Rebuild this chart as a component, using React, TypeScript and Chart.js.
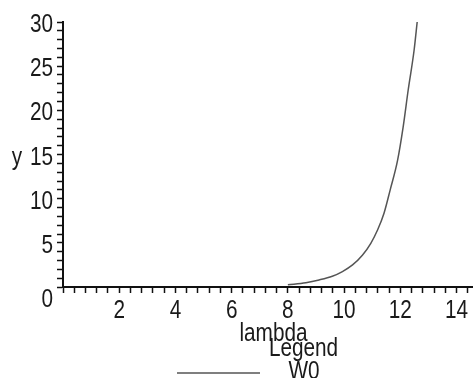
import React, { useEffect, useRef } from "react";
import { Chart, registerables } from "chart.js";

Chart.register(...registerables);

// Data
const lambdaValues = [8, 8.64, 9.11, 9.58, 9.94, 10.3, 10.65, 10.95, 11.19, 11.42, 11.64, 11.9, 12.1, 12.28, 12.49, 12.6];
const w0Values = [0.25, 0.49, 0.8, 1.22, 1.75, 2.5, 3.6, 4.95, 6.45, 8.35, 11.0, 14.3, 18.1, 22.3, 26.8, 30];

const xLabelTicks = [2, 4, 6, 8, 10, 12, 14];
const yLabelTicks = [0, 5, 10, 15, 20, 25, 30];
const xMinorStep = 0.4;
const yMinorStep = 1;
const xMax = 14.55;
const yMax = 30;

const seriesName = "W0";
const xTitle = "lambda";
const yTitle = "y";
const legendTitle = "Legend";

const FONT = "'Liberation Sans', Arial, sans-serif";
const FONT_SIZE = 25;
const SX = 0.83;
const LINE_COLOR = "#555555";
const AXIS_COLOR = "#111111";
const TEXT_COLOR = "#1a1a1a";

function buildTicks(max: number, step: number) {
  const out: { value: number }[] = [];
  const n = Math.floor(max / step + 1e-6);
  for (let i = 0; i <= n; i++) out.push({ value: Math.round(i * step * 1000) / 1000 });
  return out;
}

function narrowText(ctx: CanvasRenderingContext2D, text: string, x: number, y: number, align: CanvasTextAlign) {
  ctx.save();
  ctx.translate(x, y);
  ctx.scale(SX, 1);
  ctx.textAlign = align;
  ctx.textBaseline = "alphabetic";
  ctx.fillText(text, 0, 0);
  ctx.restore();
}

const textPlugin = {
  id: "mapleText",
  afterDraw(chart: any) {
    const ctx: CanvasRenderingContext2D = chart.ctx;
    const xs = chart.scales.x;
    const ys = chart.scales.y;
    ctx.save();
    ctx.fillStyle = TEXT_COLOR;
    ctx.font = `${FONT_SIZE}px ${FONT}`;
    // y tick labels
    yLabelTicks.forEach((v) => {
      const py = ys.getPixelForValue(v);
      narrowText(ctx, String(v), 53, v === 0 ? py + 20 : py + 10, "right");
    });
    // x tick labels
    xLabelTicks.forEach((v) => {
      const px = xs.getPixelForValue(v);
      narrowText(ctx, String(v), px, 318, "center");
    });
    // titles
    narrowText(ctx, yTitle, 17, 165, "center");
    narrowText(ctx, xTitle, 273.5, 341, "center");
    narrowText(ctx, legendTitle, 303.5, 356, "center");
    // legend entry
    const ds = chart.data.datasets[0];
    ctx.strokeStyle = ds.borderColor;
    ctx.lineWidth = 1.5;
    ctx.beginPath();
    ctx.moveTo(177, 373);
    ctx.lineTo(260, 373);
    ctx.stroke();
    narrowText(ctx, ds.label, 304, 378.5, "center");
    ctx.restore();
  },
};

export default function App() {
  const ref = useRef<HTMLCanvasElement | null>(null);

  useEffect(() => {
    document.body.style.margin = "0";
    const canvas = ref.current;
    if (!canvas) return;
    const chart = new Chart(canvas, {
      type: "line",
      data: {
        datasets: [
          {
            label: seriesName,
            data: lambdaValues.map((x, i) => ({ x, y: w0Values[i] })),
            borderColor: LINE_COLOR,
            borderWidth: 1.5,
            pointRadius: 0,
            cubicInterpolationMode: "monotone",
            fill: false,
          },
        ],
      },
      options: {
        animation: false,
        responsive: false,
        events: [],
        layout: { padding: { top: 22, right: 1, left: 0, bottom: 0 } },
        plugins: {
          legend: { display: false },
          tooltip: { enabled: false },
          title: { display: false },
        },
        scales: {
          x: {
            type: "linear",
            min: 0,
            max: xMax,
            afterBuildTicks(scale: any) {
              scale.ticks = buildTicks(xMax, xMinorStep);
            },
            afterFit(scale: any) {
              scale.height = 91;
            },
            ticks: { display: false, autoSkip: false },
            grid: {
              drawOnChartArea: false,
              drawTicks: true,
              tickLength: 6,
              tickColor: AXIS_COLOR,
              tickWidth: 1.5,
            },
            border: { display: true, color: AXIS_COLOR, width: 2 },
          },
          y: {
            type: "linear",
            min: 0,
            max: yMax,
            afterBuildTicks(scale: any) {
              scale.ticks = buildTicks(yMax, yMinorStep);
            },
            afterFit(scale: any) {
              scale.width = 63;
            },
            ticks: { display: false, autoSkip: false },
            grid: {
              drawOnChartArea: false,
              drawTicks: true,
              tickLength: 6,
              tickColor: AXIS_COLOR,
              tickWidth: 1.5,
            },
            border: { display: true, color: AXIS_COLOR, width: 2 },
          },
        },
      },
      plugins: [textPlugin],
    } as any);
    return () => chart.destroy();
  }, []);

  return (
    <div style={{ position: "absolute", left: 0, top: 0, width: 473, height: 378 }}>
      <canvas ref={ref} width={473} height={378} style={{ display: "block" }} />
    </div>
  );
}
